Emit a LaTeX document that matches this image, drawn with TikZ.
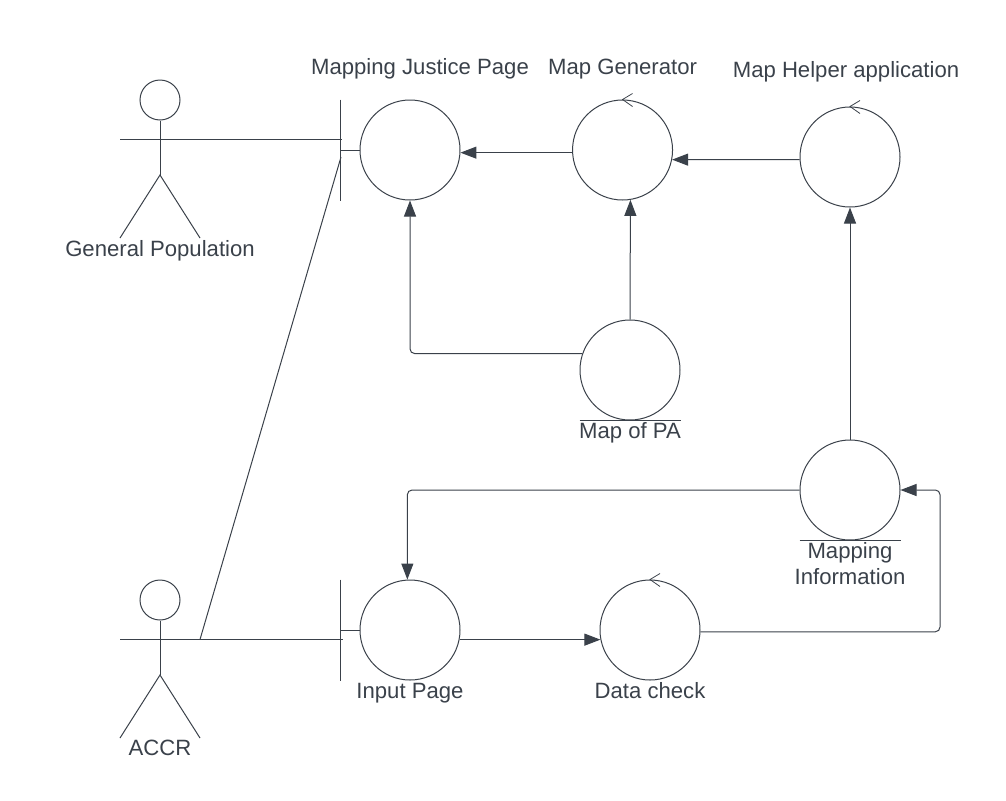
\documentclass[tikz,border=0pt]{standalone}
\usepackage{fontspec}
\setmainfont{Liberation Sans}
\usetikzlibrary{positioning, arrows.meta}
\definecolor{inkc}{HTML}{3A414A}
\tikzset{
    bubble/.style={circle, draw=inkc, line width=0.75pt, minimum size=75pt, inner sep=0pt},
    caption/.style={text=inkc, font=\fontsize{16.6}{19.5}\selectfont, align=center, inner sep=0pt, text height=12pt, text depth=3pt},
    flow/.style={draw=inkc, line width=0.75pt, -{Triangle[length=12pt,width=9pt]}, rounded corners=3.5pt},
    wire/.style={draw=inkc, line width=0.75pt},
    actor/.pic = {
    \node[circle, draw=inkc, line width=0.75pt, minimum size=30pt, inner sep=0pt] (head) at (0,0) {};
    \coordinate (hip) at (0,75);
    \coordinate (hand) at (40,39.5);
    \draw[wire] (head.south) -- (hip);
    \draw[wire] (-40,39.5) -- (hand);
    \draw[wire] (-40,138) -- (hip) -- (40,138);
    },
    ctrl/.pic = {
    \draw[wire, line width=0.6pt] (10,-6) -- (0,0) -- (10,7);
    },
}
\begin{document}
\begin{tikzpicture}[x=0.75pt, y=-0.75pt, on grid]
    \useasboundingbox (0,0) rectangle (1006,800);

    \node[bubble] (mjp) at (410,150) {};
    \node[bubble, right=159.4pt of mjp] (mgen) {};
    \node[bubble, right=170.6pt of mgen, yshift=-5.25pt] (helper) {};
    \node[bubble, below=165pt of mgen, xshift=5.6pt] (mappa) {};
    \node[bubble, below=249.75pt of helper] (info) {};
    \node[bubble, below=360pt of mjp] (input) {};
    \node[bubble, right=180pt of input] (data) {};

    \pic at (mgen.north) {ctrl};
    \pic at (helper.north) {ctrl};
    \pic at (data.north) {ctrl};

    \node[caption, above=61pt of mjp, xshift=7.5pt] (mjptext) {Mapping Justice Page};
    \node[caption, above=61pt of mgen] (mgentext) {Map Generator};
    \node[caption, above=64pt of helper, xshift=-3pt] (helpertext) {Map Helper application};
    \node[caption, below=46.5pt of mappa] (mappatext) {Map of PA};
    \node[caption, below=66pt of info] (infotext) {Mapping\\Information};
    \node[caption, below=46.9pt of input] (inputtext) {Input Page};
    \node[caption, below=46.9pt of data] (datatext) {Data check};

    \pic (gp) at (160,100) {actor};
    \pic (accr) at (160,600) {actor};
    \node[caption] (gptext) at (160,250) {General Population};
    \node[caption] (accrtext) at (160,749) {ACCR};

    % boundary bars
    \coordinate (mjpbar) at (340,150);
    \coordinate (inputbar) at (340,630);
    \draw[wire] (mjp.north -| mjpbar) -- (mjp.south -| mjpbar);
    \draw[wire] (input.north -| inputbar) -- (input.south -| inputbar);
    \draw[wire] (mjpbar) -- (mjp.west);
    \draw[wire] (inputbar) -- (input.west);

    \coordinate (mjpin) at (342,139.5);
    \coordinate (mjplow) at (341,157);
    \coordinate (inputin) at (343,639.5);
    \coordinate (turn) at (940,560);

    \draw[wire] (gphand) -- (mjpin);
    \draw[wire] (accrhand) -- (inputin);
    \draw[wire] (accrhand) -- (mjplow);

    \draw[flow] (mgen.183.4) -- (mjp.-3.4);
    \draw[flow] (helper.183.4) -- (mgen.-11.5);
    \draw[flow] (mappa.north) -- (mgen.-81.4);
    \draw[flow] (mappa.161.3) -| (mjp.south);
    \draw[flow] (info.north) -- (helper.south);
    \draw[flow] (info.west) -| (input.93.4);
    \draw[flow] (input.-11.5) -- (data.191.5);
    \draw[flow] (data.-2.3) -| (turn) |- (info.east);

    % underlines of the entity bubbles
    \draw[wire] (mappa.west |- mappa.south) -- (mappa.east |- mappa.south);
    \draw[wire] (info.west |- info.south) -- (info.east |- info.south);
  \end{tikzpicture}
\end{document}
